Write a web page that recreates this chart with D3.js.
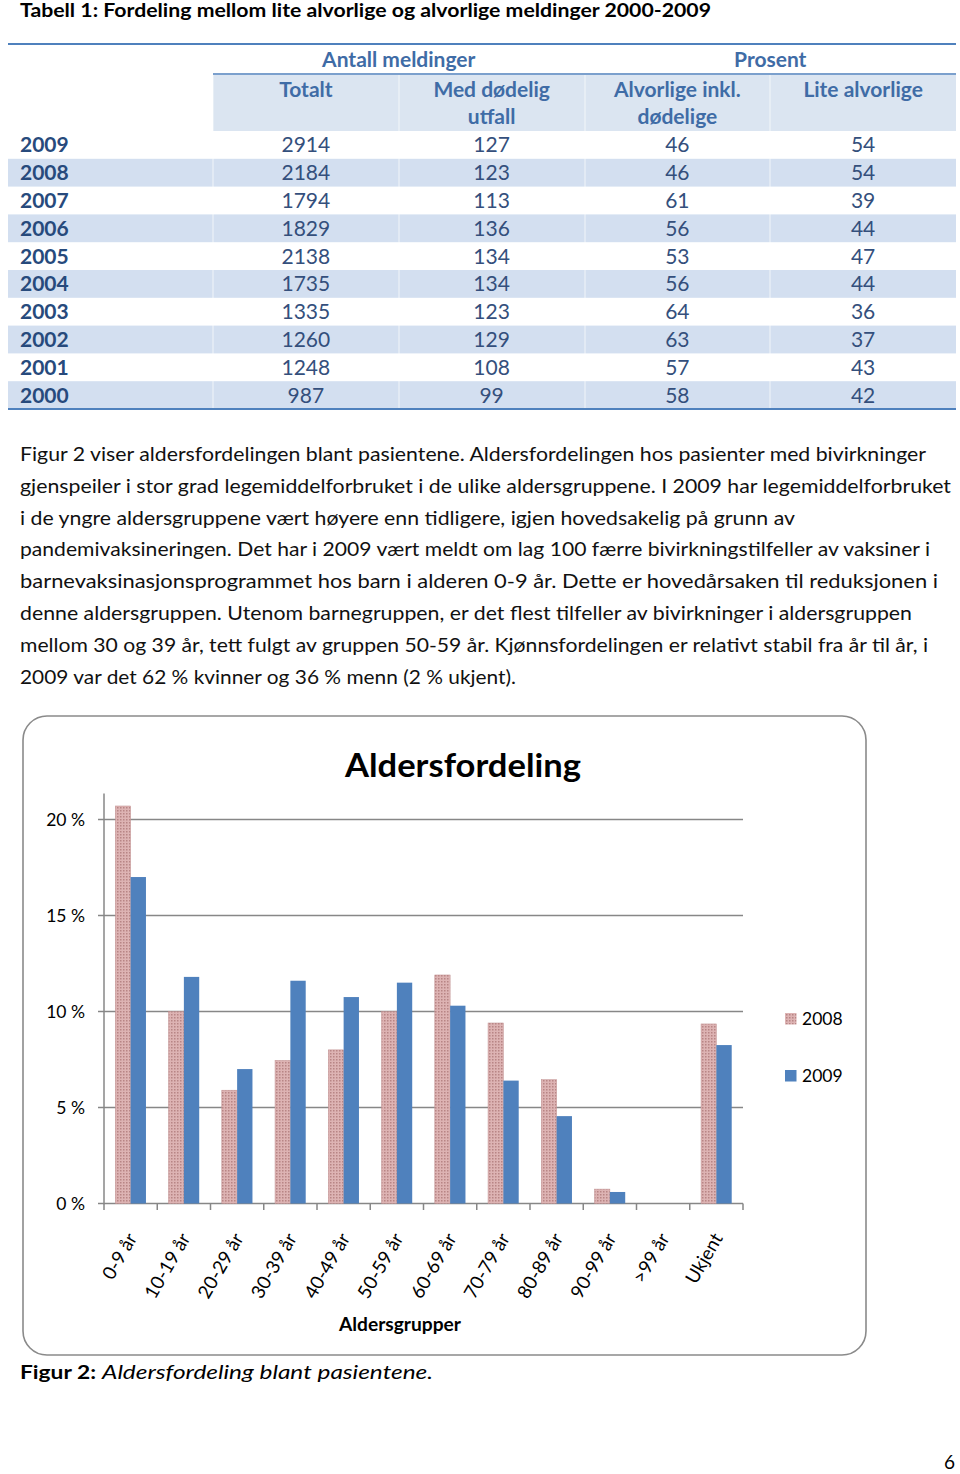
<!DOCTYPE html>
<html><head><meta charset="utf-8">
<script src="https://cdn.jsdelivr.net/npm/d3@7"></script>
<style>
body{margin:0;background:#fff}
svg{display:block;font-family:Lato,"Open Sans",sans-serif}
</style>
</head><body>
<script>
// ---------------- Table data ----------------
const tableTitle = "Tabell 1: Fordeling mellom lite alvorlige og alvorlige meldinger 2000-2009";
const groupHeaders = ["Antall meldinger", "Prosent"];
const columnHeaders = [["Totalt"], ["Med dødelig", "utfall"], ["Alvorlige inkl.", "dødelige"], ["Lite alvorlige"]];
const years = [2009, 2008, 2007, 2006, 2005, 2004, 2003, 2002, 2001, 2000];
const totalt = [2914, 2184, 1794, 1829, 2138, 1735, 1335, 1260, 1248, 987];
const medDodelig = [127, 123, 113, 136, 134, 134, 123, 129, 108, 99];
const alvorligePct = [46, 46, 61, 56, 53, 56, 64, 63, 57, 58];
const liteAlvorligePct = [54, 54, 39, 44, 47, 44, 36, 37, 43, 42];

// ---------------- Paragraph ----------------
const paragraphLines = [
  "Figur 2 viser aldersfordelingen blant pasientene. Aldersfordelingen hos pasienter med bivirkninger",
  "gjenspeiler i stor grad legemiddelforbruket i de ulike aldersgruppene. I 2009 har legemiddelforbruket",
  "i de yngre aldersgruppene vært høyere enn tidligere, igjen hovedsakelig på grunn av",
  "pandemivaksineringen. Det har i 2009 vært meldt om lag 100 færre bivirkningstilfeller av vaksiner i",
  "barnevaksinasjonsprogrammet hos barn i alderen 0-9 år. Dette er hovedårsaken til reduksjonen i",
  "denne aldersgruppen. Utenom barnegruppen, er det flest tilfeller av bivirkninger i aldersgruppen",
  "mellom 30 og 39 år, tett fulgt av gruppen 50-59 år. Kjønnsfordelingen er relativt stabil fra år til år, i",
  "2009 var det 62 % kvinner og 36 % menn (2 % ukjent)."
];

// ---------------- Chart data ----------------
const chartTitle = "Aldersfordeling";
const ageGroups = ["0-9 år", "10-19 år", "20-29 år", "30-39 år", "40-49 år", "50-59 år", "60-69 år", "70-79 år", "80-89 år", "90-99 år", ">99 år", "Ukjent"];
const seriesNames = ["2008", "2009"];
const values2008 = [20.7, 10.0, 5.9, 7.45, 8.0, 10.0, 11.9, 9.4, 6.45, 0.75, 0, 9.35];
const values2009 = [17.0, 11.8, 7.0, 11.6, 10.75, 11.5, 10.3, 6.4, 4.55, 0.6, 0, 8.25];
const yTickValues = [0, 5, 10, 15, 20];
const yTickLabels = ["0 %", "5 %", "10 %", "15 %", "20 %"];
const xAxisTitle = "Aldersgrupper";
const captionBold = "Figur 2:";
const captionItalic = "Aldersfordeling blant pasientene.";
const pageNumber = "6";

// ---------------- Layout ----------------
const W = 960, H = 1474;
const paraWidths = [906, 931, 775, 910, 918, 892, 908, 496];
const svg = d3.select("body").append("svg").attr("width", W).attr("height", H);
svg.append("rect").attr("width", W).attr("height", H).attr("fill", "#fff");

const tBlue = "#4f81bd", headCol = "#3f6ca6", yearCol = "#274a7c", numCol = "#344f7c";
const tFont = 21;

// Table title
svg.append("text").attr("x", 20).attr("y", 17).attr("font-weight", "bold").attr("font-size", 18.5)
  .attr("textLength", 691).attr("lengthAdjust", "spacingAndGlyphs").attr("fill", "#000").text(tableTitle);

// Table scales
const colScale = d3.scaleBand().domain(d3.range(4)).range([213, 956]);
const rowScale = d3.scaleBand().domain(years).range([131, 409]);
const T = svg.append("g");

// header background
T.append("rect").attr("x", 213).attr("y", 75).attr("width", 743).attr("height", 56).attr("fill", "#dbe5f1");
// banded rows
years.forEach((yr, i) => {
  if (i % 2 === 1) {
    T.append("rect").attr("x", 8).attr("y", rowScale(yr)).attr("width", 948).attr("height", rowScale.bandwidth()).attr("fill", "#d3dff0");
  }
});
// faint cell separators
[213, 399, 585, 770].forEach(x => {
  T.append("line").attr("x1", x).attr("x2", x).attr("y1", 75).attr("y2", 409).attr("stroke", "#fff").attr("stroke-width", 1).attr("opacity", 0.7);
});
// lines
T.append("line").attr("x1", 8).attr("x2", 956).attr("y1", 44).attr("y2", 44).attr("stroke", tBlue).attr("stroke-width", 2);
T.append("line").attr("x1", 213).attr("x2", 956).attr("y1", 74).attr("y2", 74).attr("stroke", tBlue).attr("stroke-width", 1.5);
T.append("line").attr("x1", 8).attr("x2", 956).attr("y1", 409).attr("y2", 409).attr("stroke", tBlue).attr("stroke-width", 2);

// group headers
groupHeaders.forEach((g, i) => {
  const cx = colScale(i * 2) + colScale.bandwidth();
  T.append("text").attr("x", cx).attr("y", 67).attr("text-anchor", "middle").attr("font-weight", "bold")
    .attr("font-size", tFont).attr("fill", headCol).text(g);
});
// column headers
columnHeaders.forEach((lines, i) => {
  const cx = colScale(i) + colScale.bandwidth() / 2;
  lines.forEach((l, j) => {
    T.append("text").attr("x", cx).attr("y", 97 + j * 27).attr("text-anchor", "middle").attr("font-weight", "bold")
      .attr("font-size", tFont).attr("fill", headCol).text(l);
  });
});
// rows
const cols = [totalt, medDodelig, alvorligePct, liteAlvorligePct];
years.forEach((yr, i) => {
  const by = rowScale(yr) + rowScale.bandwidth() / 2 + 7.5;
  T.append("text").attr("x", 20).attr("y", by).attr("font-weight", "bold").attr("font-size", tFont).attr("fill", yearCol).text(yr);
  cols.forEach((arr, c) => {
    T.append("text").attr("x", colScale(c) + colScale.bandwidth() / 2).attr("y", by).attr("text-anchor", "middle")
      .attr("font-size", tFont).attr("fill", numCol).text(arr[i]);
  });
});

// Paragraph
paragraphLines.forEach((l, i) => {
  svg.append("text").attr("x", 20).attr("y", 461 + i * 31.8).attr("font-size", 18.8).attr("fill", "#111")
    .attr("textLength", paraWidths[i]).attr("lengthAdjust", "spacingAndGlyphs").text(l);
});

// ---------------- Chart ----------------
const defs = svg.append("defs");
const pat = defs.append("pattern").attr("id", "p2008").attr("width", 3).attr("height", 3).attr("patternUnits", "userSpaceOnUse");
pat.append("rect").attr("width", 3).attr("height", 3).attr("fill", "#ddb3b3");
pat.append("rect").attr("width", 1.5).attr("height", 1.5).attr("fill", "#b88585");
const seriesFill = {"2008": "url(#p2008)", "2009": "#4f81bd"};

// chart frame
svg.append("rect").attr("x", 23).attr("y", 716).attr("width", 843).attr("height", 639).attr("rx", 24).attr("ry", 24)
  .attr("fill", "#fff").attr("stroke", "#8a8a8a").attr("stroke-width", 1.6);

// title
svg.append("text").attr("x", 463).attr("y", 777).attr("text-anchor", "middle").attr("font-weight", "bold")
  .attr("font-size", 33).attr("textLength", 236).attr("lengthAdjust", "spacingAndGlyphs").attr("fill", "#000").text(chartTitle);

const plotL = 104, plotR = 743, plotB = 1203.5, plotT = 793.5;
const x0 = d3.scaleBand().domain(ageGroups).range([plotL, plotR]).paddingInner(0).paddingOuter(0);
const x1 = d3.scaleBand().domain(seriesNames).range([x0.bandwidth() * 0.212, x0.bandwidth() * 0.788]);
const y = d3.scaleLinear().domain([0, 21.35]).range([plotB, plotT]);
const gridCol = "#878787";

const C = svg.append("g");
// gridlines + ticks
yTickValues.forEach((v, i) => {
  C.append("line").attr("x1", plotL - 6).attr("x2", plotR).attr("y1", y(v)).attr("y2", y(v))
    .attr("stroke", gridCol).attr("stroke-width", 1.5);
  C.append("text").attr("x", 85).attr("y", y(v) + 6.5).attr("text-anchor", "end").attr("font-size", 17.5)
    .attr("fill", "#000").text(yTickLabels[i]);
});
// y axis line
C.append("line").attr("x1", plotL).attr("x2", plotL).attr("y1", plotT).attr("y2", plotB + 0.75)
  .attr("stroke", gridCol).attr("stroke-width", 1.5);
// x ticks at boundaries
ageGroups.concat([null]).forEach((g, i) => {
  const xx = g === null ? plotR : x0(g);
  C.append("line").attr("x1", xx).attr("x2", xx).attr("y1", plotB).attr("y2", plotB + 6.5)
    .attr("stroke", gridCol).attr("stroke-width", 1.5);
});

// bars
const barData = [];
ageGroups.forEach((g, i) => {
  barData.push({g, s: "2008", v: values2008[i]});
  barData.push({g, s: "2009", v: values2009[i]});
});
C.selectAll("rect.bar").data(barData).enter().append("rect").attr("class", "bar")
  .attr("x", d => x0(d.g) + x1(d.s)).attr("width", x1.bandwidth())
  .attr("y", d => y(d.v)).attr("height", d => plotB - y(d.v))
  .attr("fill", d => seriesFill[d.s])
  .attr("stroke", d => d.s === "2008" ? "#c09090" : "none").attr("stroke-width", 0.5);

// x labels rotated
ageGroups.forEach(g => {
  const cx = x0(g) + x0.bandwidth() / 2;
  C.append("text").attr("transform", `translate(${cx + 7},${1238}) rotate(-60)`).attr("text-anchor", "end")
    .attr("font-size", 18.8).attr("fill", "#000").text(g);
});
// axis title
C.append("text").attr("x", 400).attr("y", 1331).attr("text-anchor", "middle").attr("font-weight", "bold")
  .attr("font-size", 18.4).attr("textLength", 122).attr("lengthAdjust", "spacingAndGlyphs").attr("fill", "#000").text(xAxisTitle);

// legend
seriesNames.forEach((s, i) => {
  const ly = 1013 + i * 57;
  C.append("rect").attr("x", 785).attr("y", ly).attr("width", 11.5).attr("height", 11.5).attr("fill", seriesFill[s]);
  C.append("text").attr("x", 802).attr("y", ly + 11.5).attr("font-size", 17.5).attr("fill", "#000").text(s);
});

// caption
svg.append("text").attr("x", 20).attr("y", 1379).attr("font-weight", "bold").attr("font-size", 19)
  .attr("textLength", 76).attr("lengthAdjust", "spacingAndGlyphs").attr("fill", "#000").text(captionBold);
svg.append("text").attr("x", 102).attr("y", 1379).attr("font-style", "italic").attr("font-size", 19)
  .attr("textLength", 331).attr("lengthAdjust", "spacingAndGlyphs").attr("fill", "#000").text(captionItalic);

// page number
svg.append("text").attr("x", 955).attr("y", 1469).attr("text-anchor", "end").attr("font-size", 19).attr("fill", "#000").text(pageNumber);
</script>
</body></html>
